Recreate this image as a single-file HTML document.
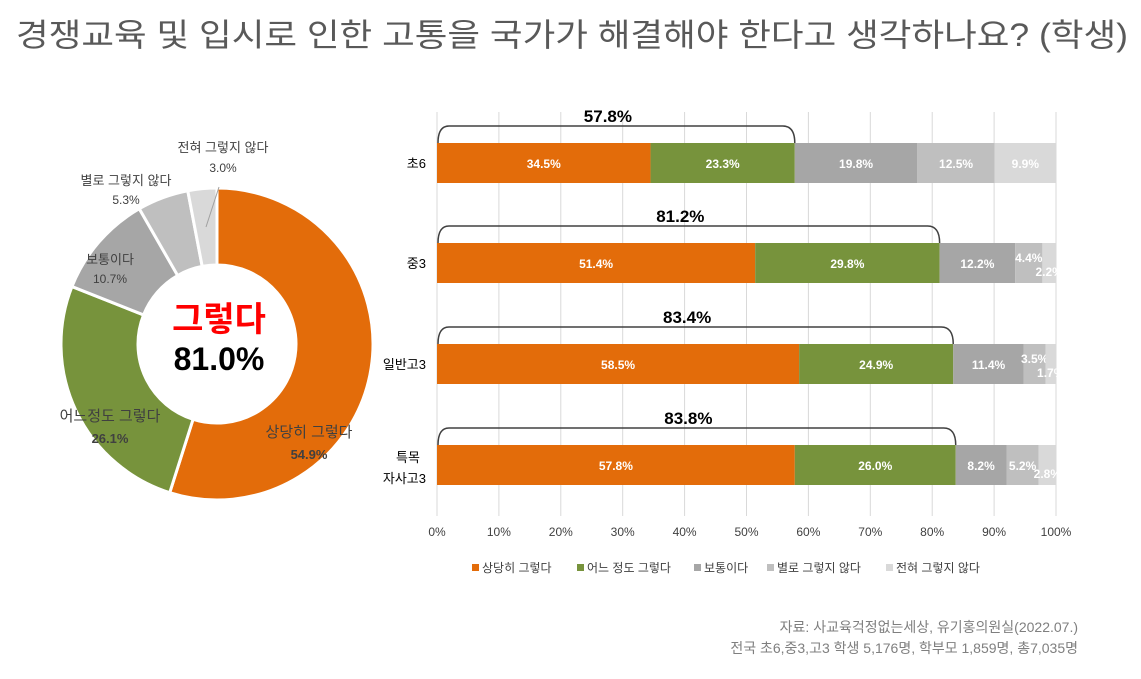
<!DOCTYPE html>
<html><head><meta charset="utf-8"><style>
body{margin:0;width:1141px;height:674px;background:#fff;overflow:hidden;font-family:"Liberation Sans","Noto Sans CJK KR",sans-serif}
svg text{font-family:"Liberation Sans","Noto Sans CJK KR",sans-serif}
</style></head><body>
<svg id="s" width="1141" height="674" xmlns="http://www.w3.org/2000/svg">
<text x="16" y="46" font-size="32" fill="#595959" textLength="1112" lengthAdjust="spacingAndGlyphs">경쟁교육 및 입시로 인한 고통을 국가가 해결해야 한다고 생각하나요? (학생)</text>
<g id="donut"></g>
<text x="219" y="331" font-size="34" font-weight="bold" fill="#ff0000" text-anchor="middle">그렇다</text>
<text x="219" y="370" font-size="32" font-weight="bold" fill="#000" text-anchor="middle">81.0%</text>
<g font-size="13" fill="#404040" text-anchor="middle">
<text x="223" y="152">전혀 그렇지 않다</text><text x="223" y="172" font-size="12">3.0%</text>
<text x="126" y="185">별로 그렇지 않다</text><text x="126" y="204" font-size="12">5.3%</text>
<text x="110" y="264">보통이다</text><text x="110" y="283" font-size="12">10.7%</text>
<text x="110" y="421" font-size="15">어느정도 그렇다</text><text x="110" y="443" font-weight="bold">26.1%</text>
<text x="309" y="437" font-size="15">상당히 그렇다</text><text x="309" y="459" font-weight="bold">54.9%</text>
</g>
<line x1="206" y1="227" x2="219" y2="187" stroke="#a0a0a0" stroke-width="1"/>
<g id="bars"></g>
<text x="1078" y="632" font-size="14" fill="#7f7f7f" text-anchor="end">자료: 사교육걱정없는세상, 유기홍의원실(2022.07.)</text>
<text x="1078" y="653" font-size="14" fill="#7f7f7f" text-anchor="end">전국 초6,중3,고3 학생 5,176명, 학부모 1,859명, 총7,035명</text>
</svg>
<script>
const NS="http://www.w3.org/2000/svg";
function el(p,t,a,txt){const e=document.createElementNS(NS,t);for(const k in a)e.setAttribute(k,a[k]);if(txt!==undefined)e.textContent=txt;p.appendChild(e);return e;}
const cols=["#e36c0a","#77933c","#a6a6a6","#bfbfbf","#d9d9d9"];
const d=document.getElementById("donut");const cx=217,cy=344,R=156,r=79;
const vals=[54.9,26.1,10.7,5.3,3.0];let a0=0;
vals.forEach((v,i)=>{const a1=a0+v/100*2*Math.PI;
const p=(a,rr)=>[cx+rr*Math.sin(a),cy-rr*Math.cos(a)];
const [x1,y1]=p(a0,R),[x2,y2]=p(a1,R),[x3,y3]=p(a1,r),[x4,y4]=p(a0,r);const lg=(a1-a0)>Math.PI?1:0;
el(d,"path",{d:`M${x1} ${y1}A${R} ${R} 0 ${lg} 1 ${x2} ${y2}L${x3} ${y3}A${r} ${r} 0 ${lg} 0 ${x4} ${y4}Z`,fill:cols[i],stroke:"#fff","stroke-width":3});a0=a1;});
const b=document.getElementById("bars");const X0=437,W=619;
for(let i=0;i<=10;i++){const x=X0+W*i/10;el(b,"line",{x1:x,y1:112,x2:x,y2:516,stroke:"#d9d9d9","stroke-width":1});
el(b,"text",{x:x,y:536,"font-size":12,fill:"#404040","text-anchor":"middle"},i*10+"%");}
const rows=[{y:143,v:[34.5,23.3,19.8,12.5,9.9],t:"57.8%"},{y:243,v:[51.4,29.8,12.2,4.4,2.2],t:"81.2%"},{y:344,v:[58.5,24.9,11.4,3.5,1.7],t:"83.4%"},{y:445,v:[57.8,26.0,8.2,5.2,2.8],t:"83.8%"}];
rows.forEach((rw,ri)=>{let s=0;const tot=rw.v.reduce((a,c)=>a+c,0);
rw.v.forEach((v,i)=>{const x=X0+W*s/tot,w=W*v/tot;el(b,"rect",{x:x,y:rw.y,width:w,height:40,fill:cols[i]});
let ty=rw.y+25,tx=x+w/2;if(v<5&&ri>0){ty=rw.y+(i==3?19:33);}
el(b,"text",{x:tx,y:ty,"font-size":12,"font-weight":"bold",fill:"#fff","text-anchor":"middle"},v.toFixed(1)+"%");s+=v;});
const e=X0+W*(rw.v[0]+rw.v[1])/tot;const yb=rw.y-17;
el(b,"path",{d:`M${X0+1} ${rw.y}Q${X0+1} ${yb} ${X0+12} ${yb}L${e-12} ${yb}Q${e} ${yb} ${e} ${rw.y}`,fill:"none",stroke:"#404040","stroke-width":1.5});
el(b,"text",{x:(X0+e)/2-8,y:yb-4,"font-size":17,"font-weight":"bold",fill:"#000","text-anchor":"middle"},rw.t);});
[["초6",168],["중3",268],["일반고3",369]].forEach(([t,y])=>el(b,"text",{x:426,y:y,"font-size":13,fill:"#000","text-anchor":"end"},t));
el(b,"text",{x:408,y:462,"font-size":13,fill:"#000","text-anchor":"middle"},"특목");
el(b,"text",{x:426,y:483,"font-size":13,fill:"#000","text-anchor":"end"},"자사고3");
const lg=[["상당히 그렇다",472],["어느 정도 그렇다",577],["보통이다",694],["별로 그렇지 않다",767],["전혀 그렇지 않다",886]];
lg.forEach(([t,x],i)=>{el(b,"rect",{x:x,y:564,width:7,height:7,fill:cols[i]});el(b,"text",{x:x+10,y:572,"font-size":12,fill:"#404040"},t);});
</script>
</body></html>
